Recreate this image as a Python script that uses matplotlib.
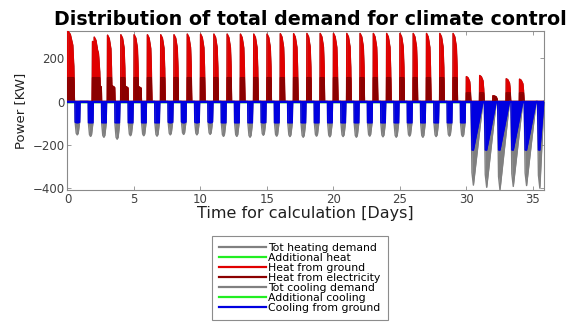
import numpy as np
import matplotlib
matplotlib.use("Agg")
import matplotlib.pyplot as plt

plt.rcParams['font.family'] = ['DejaVu Sans']

# ---------------- data ----------------
days = np.arange(36)
# peak of heating demand per day [kW]
heat_peak = [326, 277, 297, 306, 308, 308, 308, 308, 308, 311,
             311, 311, 311, 311, 311, 311, 313, 313, 314, 314,
             314, 314, 314, 314, 314, 314, 314, 314, 314, 314,
             115, 120, 26, 105, 103, 0]
# start of heating period within each day [days] and its duration
heat_start = [0.0, 0.86] + [0.0] * 34
heat_width = [0.52, 0.62] + [0.34] * 34
# small after-heating tail on some days [kW]
heat_tail = [0, 0, 75, 72, 70, 68] + [0] * 30
# level up to which heat is covered by electricity [kW]
elec_cap = [110] * 30 + [40] * 6
# heating profile (fraction of peak) over the heating period
heat_u = [0.0, 0.04, 0.4, 0.75, 0.9, 1.0]
heat_f = [0.0, 1.0, 0.95, 0.8, 0.5, 0.0]

# peak of total cooling demand per day [kW]
cool_peak = [-154, -161, -165, -174, -158, -158, -160, -154, -152, -154,
             -152, -161, -161, -165, -156, -160, -162, -165, -160, -163,
             -162, -165, -160, -163, -165, -160, -165, -162, -160, -162,
             -386, -396, -408, -392, -388, -400]
# cooling covered from ground is capped at this level [kW]
ground_cap = [-98] * 30 + [-224] * 6
cool_start = [0.56] * 30 + [0.36] * 6
cool_width = [0.38] * 30 + [0.9] * 6
# normal days: blocky dip; last days: V shaped dip
cool_u_a = [0.0, 0.04, 0.25, 0.45, 0.65, 0.92, 1.0]
cool_f_a = [0.0, 0.62, 0.95, 1.0, 0.95, 0.62, 0.0]
cool_u_b = [0.0, 0.08, 0.2, 1.0]
cool_f_b = [0.0, 0.85, 1.0, 0.0]

labels = ['Tot heating demand', 'Additional heat', 'Heat from ground',
          'Heat from electricity', 'Tot cooling demand', 'Additional cooling',
          'Cooling from ground']
colors = ['#808080', '#22ee22', '#e00000', '#8b0000', '#808080', '#22ee22',
          '#0000e0']

x_end = 35.85

# ---------------- build series ----------------
t_h, v_h, v_e = [0.0], [0.0], [0.0]
for d in days:
    p = heat_peak[d]
    if p <= 0:
        continue
    s = d + heat_start[d]
    w = heat_width[d]
    tt = s + w * np.array(heat_u)
    vv = p * np.array(heat_f)
    t_h += list(tt)
    v_h += list(vv)
    v_e += list(np.minimum(vv, elec_cap[d]))
    if heat_tail[d] > 0:
        tt2 = [s + w + 0.005, s + w + 0.02, s + w + 0.2, s + w + 0.22]
        vv2 = [0, heat_tail[d], heat_tail[d] * 0.9, 0]
        t_h += tt2
        v_h += vv2
        v_e += list(np.minimum(vv2, elec_cap[d]))
t_h.append(x_end); v_h.append(0.0); v_e.append(0.0)
t_h, v_h, v_e = map(np.array, (t_h, v_h, v_e))

t_c, v_c, v_g = [0.0], [0.0], [0.0]
for d in days:
    s = d + cool_start[d]
    w = cool_width[d]
    if d < 30:
        u, f = cool_u_a, cool_f_a
    else:
        u, f = cool_u_b, cool_f_b
    tt = np.minimum(s + w * np.array(u), x_end)
    vv = cool_peak[d] * np.array(f)
    t_c += list(tt)
    v_c += list(vv)
    v_g += list(np.maximum(vv, ground_cap[d]))
t_c.append(x_end); v_c.append(0.0); v_g.append(0.0)
t_c, v_c, v_g = map(np.array, (t_c, v_c, v_g))

# ---------------- figure ----------------
fig = plt.figure(figsize=(5.72, 3.32), dpi=100)
ax = fig.add_axes([0.118, 0.428, 0.833, 0.479])

series = [
    (t_h, v_h), (t_h, np.zeros_like(t_h)), (t_h, v_h), (t_h, v_e),
    (t_c, v_c), (t_c, np.zeros_like(t_c)), (t_c, v_g),
]
handles = []
for i, ((tx, vy), lab, col) in enumerate(zip(series, labels, colors)):
    ax.fill_between(tx, 0, vy, color=col, linewidth=0, zorder=2 + i)
    ln, = ax.plot(tx, vy, color=col, lw=1.0, label=lab, zorder=2 + i)
    handles.append(ln)
ax.axhline(0, color=colors[-1], lw=1.6, zorder=10)

ax.set_xlim(0, x_end)
ax.set_ylim(-408, 326)
ax.set_xticks([0, 5, 10, 15, 20, 25, 30, 35])
ax.set_yticks([-400, -200, 0, 200])

for sp in ax.spines.values():
    sp.set_color('#8a8a8a')
    sp.set_linewidth(0.8)
ax.tick_params(direction='in', top=True, right=True, length=3, width=0.6,
               color='#8a8a8a', labelcolor='#404040', labelsize=8.5, pad=2)

ax.set_title('Distribution of total demand for climate control',
             fontsize=13.7, fontweight='bold', pad=4, x=0.51)
ax.set_xlabel('Time for calculation [Days]', fontsize=11.5, color='#202020',
              labelpad=0)
ax.set_ylabel('Power [KW]', fontsize=9.5, color='#202020', labelpad=4)

leg = fig.legend(handles, labels, loc='upper left',
                 bbox_to_anchor=(212 / 572, 1 - 236 / 332),
                 fontsize=7.8, handlelength=4.3, handletextpad=0.25,
                 labelspacing=0.0, borderpad=0.65, borderaxespad=0,
                 fancybox=False, frameon=True)
leg.get_frame().set_edgecolor('#707070')
leg.get_frame().set_linewidth(0.8)
for lh in leg.get_lines():
    lh.set_linewidth(1.6)

fig.savefig('out.png', dpi=100)
